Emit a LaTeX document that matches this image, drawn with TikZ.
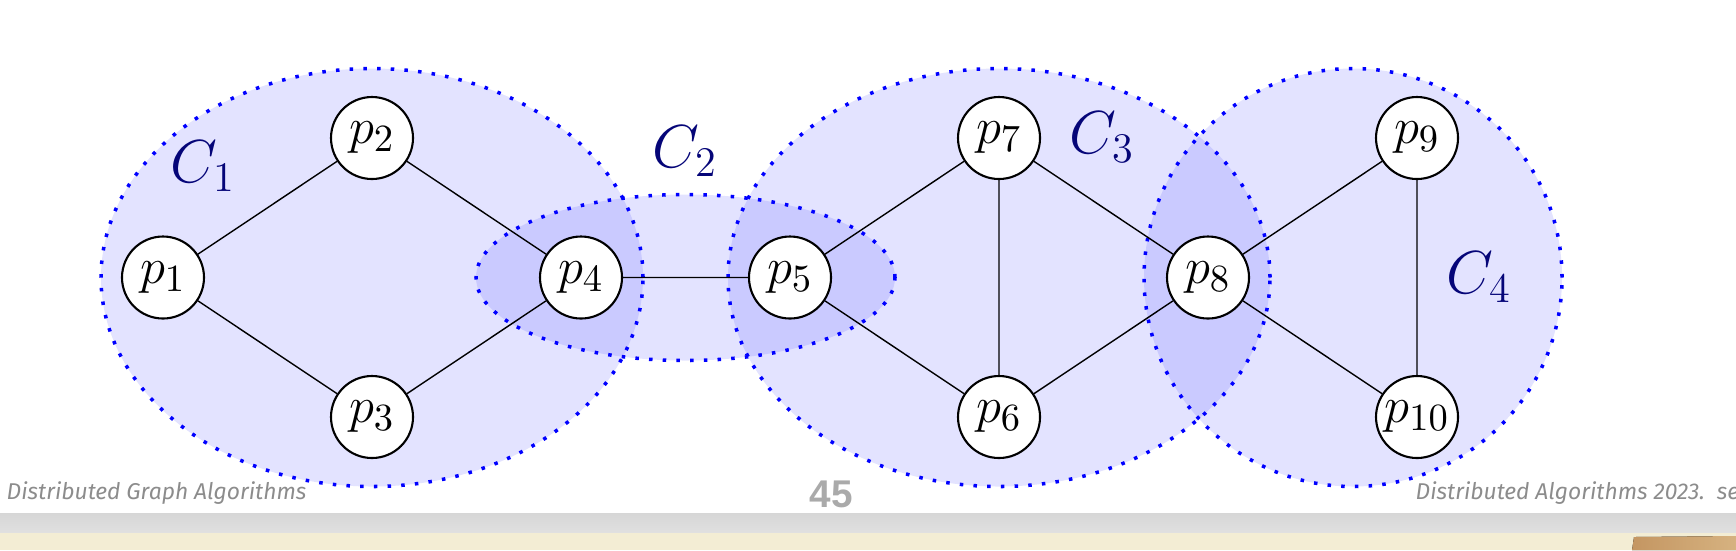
\documentclass[tikz,border=0pt]{standalone}
\usepackage{amsmath}
\usepackage{fontspec}
\newfontfamily\footfont{Fira Sans}
\newfontfamily\pagefont{Liberation Sans}
\usepackage{tikz}
\usetikzlibrary{automata, positioning, calc, backgrounds}
\definecolor{labelblue}{RGB}{5,5,120}
\definecolor{footgray}{RGB}{140,140,140}
\definecolor{pagegray}{RGB}{170,170,170}
\definecolor{barbeige}{RGB}{243,237,212}
\tikzset{
	node distance=1.395cm and 2.09cm, % vertical and horizontal grid step between processes
	on grid, % positions are taken centre to centre
	every state/.style={semithick, fill=white, minimum size=8.2mm, inner sep=0pt, font=\fontsize{15}{18}\selectfont}, % the processes
	cluster/.style={blue, fill=blue, fill opacity=0.11, line width=1pt, dash pattern=on 1pt off 2.9pt}, % the clusters C_i
	cluster label/.style={text=labelblue, font=\fontsize{18}{22}\selectfont},
	footer/.style={text=footgray, font=\footfont\itshape\fontsize{6.5}{8}\selectfont, inner sep=0pt},
}

\begin{document}
\begin{tikzpicture}
	\useasboundingbox (0,0) rectangle (17.36,5.5);
			\node[state] (p1) at (1.63,2.725) {$p_1$};
			\node[state, above right=of p1] (p2) {$p_2$};
			\node[state, below right=of p1] (p3) {$p_3$};
			\node[state, below right=of p2] (p4) {$p_4$};
			\node[state, right=of p4] (p5) {$p_5$};
			\node[state, above right=of p5] (p7) {$p_7$};
			\node[state, below right=of p5] (p6) {$p_6$};
			\node[state, below right=of p7] (p8) {$p_8$};
			\node[state, above right=of p8] (p9) {$p_9$};
			\node[state, below right=of p8] (p10) {$p_{10}$};
	\draw 	(p1) -- (p2)
			(p1) -- (p3)
			(p2) -- (p4)
			(p3) -- (p4)
			(p4) -- (p5)
			(p5) -- (p7)
			(p5) -- (p6)
			(p7) -- (p6)
			(p7) -- (p8)
			(p6) -- (p8)
			(p8) -- (p9)
			(p8) -- (p10)
			(p9) -- (p10);
	\begin{scope}[on background layer]
		\draw[cluster] ($(p2)!0.5!(p3)$) ellipse [x radius=2.71cm, y radius=2.09cm];
		\draw[cluster] ($(p4)!0.5!(p5)$) ellipse [x radius=2.095cm, y radius=0.83cm];
		\draw[cluster] ($(p7)!0.5!(p6)$) ellipse [x radius=2.71cm, y radius=2.09cm];
		\draw[cluster] ([xshift=1.45cm]p8.center) circle [radius=2.09cm];
	\end{scope}
			\node[cluster label] (c1) at (2.03,3.84) {$C_1$};
			\node[cluster label] (c2) at (6.85,3.99) {$C_2$};
			\node[cluster label] (c3) at (11.02,4.125) {$C_3$};
			\node[cluster label] (c4) at (14.79,2.73) {$C_4$};
	% slide footer
	\node[footer, anchor=base west] (lfoot) at (0.06,0.51) {Distributed Graph Algorithms};
	\node[anchor=base, text=pagegray, font=\pagefont\bfseries\fontsize{11}{13}\selectfont, inner sep=0pt] (page) at (8.31,0.43) {45};
	\node[footer, anchor=base west] (rfoot) at (14.15,0.51) {Distributed Algorithms 2023.\ \ see};
	\fill[top color=black!16, bottom color=black!12] (0,0.17) rectangle (17.36,0.37);
	\fill[barbeige] (0,0) rectangle (17.36,0.17);
	\fill[left color={rgb,255:red,196;green,150;blue,98}, right color={rgb,255:red,214;green,178;blue,128}] (16.32,0) -- (16.34,0.13) -- (17.36,0.14) -- (17.36,0) -- cycle;
\end{tikzpicture}
\end{document}
